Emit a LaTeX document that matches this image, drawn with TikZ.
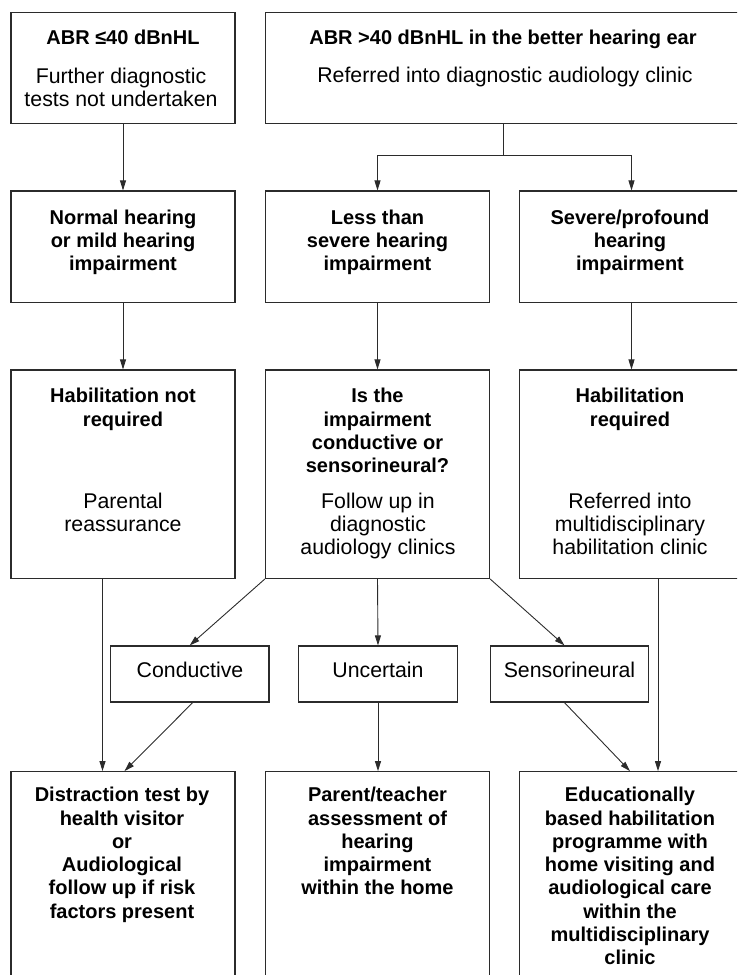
\documentclass[tikz,border=0pt]{standalone}
\usepackage{fontspec}
\setmainfont{Liberation Sans}
\usetikzlibrary{arrows.meta}
\definecolor{linec}{HTML}{2B2B2B}
\begin{document}
\begin{tikzpicture}[x=1pt,y=-1pt,
  box/.style={draw=linec, line width=1.2pt, inner sep=0pt, minimum width=224pt},
  arr/.style={draw=linec, line width=0.9pt, -{Triangle[length=10pt,width=6pt]}},
  ln/.style={draw=linec, line width=0.9pt},
  bt/.style={font=\fontsize{20}{23.3}\selectfont\bfseries, align=center, anchor=base, inner sep=0pt, text=black},
  rt/.style={font=\fontsize{21.3}{23.3}\selectfont, align=center, anchor=base, inner sep=0pt, text=black}]
\path[use as bounding box] (0,0) rectangle (737,975);
\clip (0,0) rectangle (737,975);
% row 1
\node[box, minimum height=111pt] (a1) at (123,68) {};
\node[box, minimum width=475pt, minimum height=111pt] (b1) at (503,68) {};
% row 2
\node[box, minimum height=111.3pt] (a2) at (123,246.7) {};
\node[box, minimum height=111.3pt] (b2) at (377.5,246.7) {};
\node[box, minimum height=111.3pt] (c2) at (631.5,246.7) {};
% row 3
\node[box, minimum height=208.3pt] (a3) at (123,474.2) {};
\node[box, minimum height=208.3pt] (b3) at (377.5,474.2) {};
\node[box, minimum height=208.3pt] (c3) at (631.5,474.2) {};
% small boxes
\node[box, minimum width=158.5pt, minimum height=56pt] (s1) at (189.7,674) {};
\node[box, minimum width=158.5pt, minimum height=56pt] (s2) at (378,674) {};
\node[box, minimum width=158.5pt, minimum height=56pt] (s3) at (569.5,674) {};
% bottom boxes
\node[box, minimum height=240pt] (d1) at (123,891.7) {};
\node[box, minimum height=240pt] (d2) at (377.5,891.7) {};
\node[box, minimum height=240pt] (d3) at (631.5,891.7) {};
% texts (anchor = baseline of last line)
\node[bt] (a1h) at (123,44.3) {ABR ≤40 dBnHL};
\node[rt] (a1b) at (121,106.6) {Further diagnostic\\tests not undertaken};
\node[bt] (b1h) at (503,44.3) {ABR >40 dBnHL in the better hearing ear};
\node[rt] (b1b) at (505,82.5) {Referred into diagnostic audiology clinic};
\node[bt] (a2h) at (123,270.6) {Normal hearing\\or mild hearing\\impairment};
\node[bt] (b2h) at (377.5,270.6) {Less than\\severe hearing\\impairment};
\node[bt] (c2h) at (630,270.6) {Severe/profound\\hearing\\impairment};
\node[bt] (a3h) at (123,426) {Habilitation not\\required};
\node[rt] (a3b) at (123,531.6) {Parental\\reassurance};
\node[bt] (b3h) at (377.5,472.6) {Is the\\impairment\\conductive or\\sensorineural?};
\node[rt] (b3b) at (378,554.9) {Follow up in\\diagnostic\\audiology clinics};
\node[bt] (c3h) at (630,426) {Habilitation\\required};
\node[rt] (c3b) at (630,554.9) {Referred into\\multidisciplinary\\habilitation clinic};
\node[rt] (s1t) at (190,677) {Conductive};
\node[rt] (s2t) at (378,677) {Uncertain};
\node[rt] (s3t) at (569.5,677) {Sensorineural};
\node[bt] (d1h) at (122,918.2) {Distraction test by\\health visitor\\or\\Audiological\\follow up if risk\\factors present};
\node[bt] (d2h) at (377.5,894.9) {Parent/teacher\\assessment of\\hearing\\impairment\\within the home};
\node[bt] (d3h) at (630,964.8) {Educationally\\based habilitation\\programme with\\home visiting and\\audiological care\\within the\\multidisciplinary\\clinic};
% connectors
\coordinate (split) at (503,155.7);
\draw[arr] (a1.south) -- (a2.north);
\draw[ln] (b1.south) -- (split);
\draw[arr] (split) -| (b2.north);
\draw[arr] (split) -| (c2.north);
\draw[arr] (a2.south) -- (a3.north);
\draw[arr] (b2.south) -- (b3.north);
\draw[arr] (c2.south) -- (c3.north);
\draw[arr] (b3.south west) -- (s1.north);
\draw[arr] (b3.south) -- (s2.north);
\draw[arr] (b3.south east) -- ([xshift=-5pt]s3.north);
\draw[arr] ([xshift=-20.5pt]a3.south) -- ([xshift=-20.5pt]d1.north);
\draw[arr] ([xshift=3pt]s1.south) -- ([xshift=1.5pt]d1.north);
\draw[arr] (s2.south) -- (s2.south |- d2.north);
\draw[arr] ([xshift=-5pt]s3.south) -- ([xshift=-1.5pt]d3.north);
\draw[arr] ([xshift=26.5pt]c3.south) -- ([xshift=26.5pt]d3.north);
\end{tikzpicture}
\end{document}
